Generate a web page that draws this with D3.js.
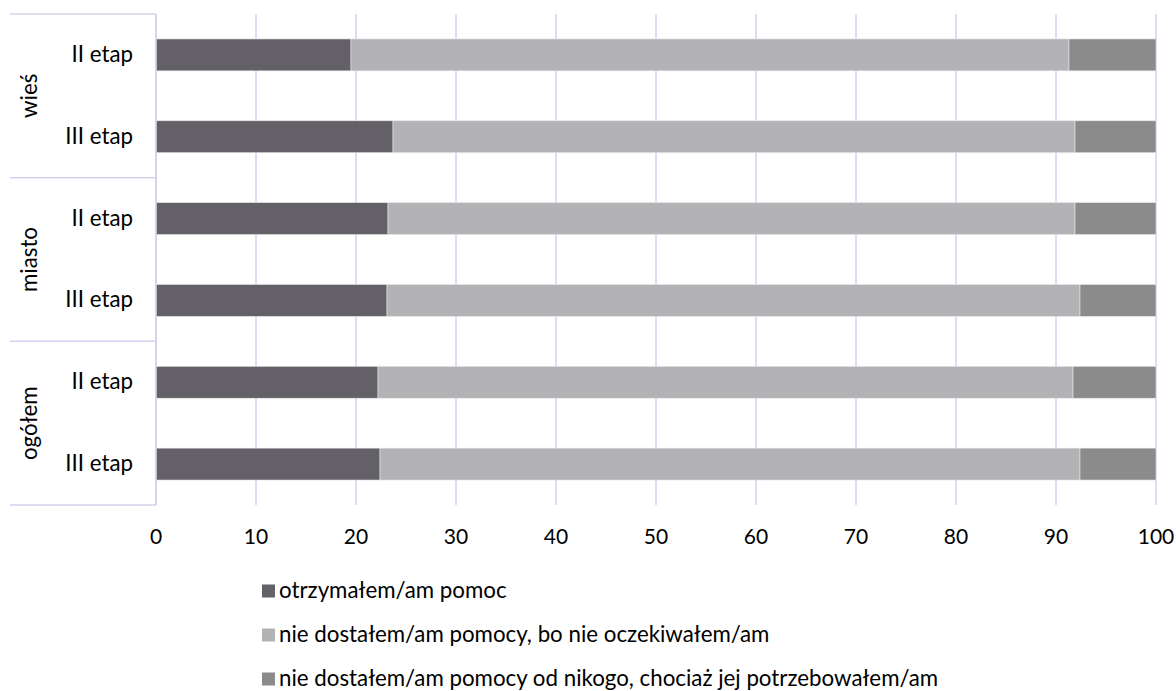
<!DOCTYPE html>
<html><head><meta charset="utf-8">
<script src="https://cdn.jsdelivr.net/npm/d3@7"></script>
<style>body{margin:0;background:#fff}svg{display:block}text{font-family:Lato,"Open Sans",sans-serif;fill:#000}</style>
</head><body><svg id="c" width="1176" height="691"></svg>
<script>
const groups = ["wieś","miasto","ogółem"];
const stages = ["II etap","III etap"];
const rows = ["wieś|II etap","wieś|III etap","miasto|II etap","miasto|III etap","ogółem|II etap","ogółem|III etap"];
const seriesNames = ["otrzymałem/am pomoc","nie dostałem/am pomocy, bo nie oczekiwałem/am","nie dostałem/am pomocy od nikogo, chociaż jej potrzebowałem/am"];
const received = [19.5, 23.7, 23.2, 23.1, 22.2, 22.4];
const notExpected = [71.8, 68.2, 68.7, 69.3, 69.5, 70.0];
const needed = [8.7, 8.1, 8.1, 7.6, 8.3, 7.6];
const xTicks = [0,10,20,30,40,50,60,70,80,90,100];
const colors = ["#636167","#b3b3b5","#8b8b8c"];

const svg = d3.select("#c");
const L=156, R=1156, T=14, B=505;
const FS=22.3, FN=21;
const x = d3.scaleLinear().domain([0,100]).range([L,R]);
const y = d3.scaleBand().domain(rows).range([T,B]).paddingInner(0.61).paddingOuter(0.305);
const grid = "#d6d0ee";

svg.append("g").selectAll("line").data(xTicks).join("line")
  .attr("x1",d=>x(d)).attr("x2",d=>x(d)).attr("y1",T).attr("y2",B)
  .attr("stroke",grid).attr("stroke-width",1.5);

const gb = d3.scaleBand().domain(groups).range([T,B]);
const seps = [T].concat(groups.map(g=>gb(g)+gb.bandwidth()));
svg.append("g").selectAll("line").data(seps).join("line")
  .attr("x1",10).attr("x2",L).attr("y1",d=>d).attr("y2",d=>d)
  .attr("stroke",grid).attr("stroke-width",1.5);

const data = rows.map((r,i)=>({r, v:[received[i],notExpected[i],needed[i]]}));
const g = svg.append("g");
data.forEach(d=>{
  let acc=0;
  d.v.forEach((v,k)=>{
    g.append("rect").attr("x",x(acc)).attr("width",x(acc+v)-x(acc))
      .attr("y",y(d.r)).attr("height",y.bandwidth()).attr("fill",colors[k])
      .attr("stroke","#e6e6e6").attr("stroke-width",0.6);
    acc+=v;
  });
});

svg.append("line").attr("x1",L).attr("x2",L).attr("y1",T).attr("y2",B).attr("stroke",grid).attr("stroke-width",1.5);

svg.append("g").selectAll("text").data(xTicks).join("text")
  .attr("x",d=>x(d)).attr("y",544).attr("text-anchor","middle").attr("font-size",FN).text(d=>d);

svg.append("g").selectAll("text").data(rows).join("text")
  .attr("x",133).attr("y",r=>y(r)+y.bandwidth()/2+7).attr("text-anchor","end").attr("font-size",FS)
  .text(r=>r.split("|")[1]);

svg.append("g").selectAll("text").data(groups).join("text")
  .attr("transform",gname=>`translate(37,${gb(gname)+gb.bandwidth()/2}) rotate(-90)`)
  .attr("text-anchor","middle").attr("font-size",FS).text(d=>d);

const lg = svg.append("g");
seriesNames.forEach((n,i)=>{
  const cy = 591 + i*44;
  lg.append("rect").attr("x",262).attr("y",cy-6.5).attr("width",13).attr("height",13).attr("fill",colors[i]);
  lg.append("text").attr("x",279).attr("y",cy+7).attr("font-size",FS).text(n);
});
</script></body></html>
